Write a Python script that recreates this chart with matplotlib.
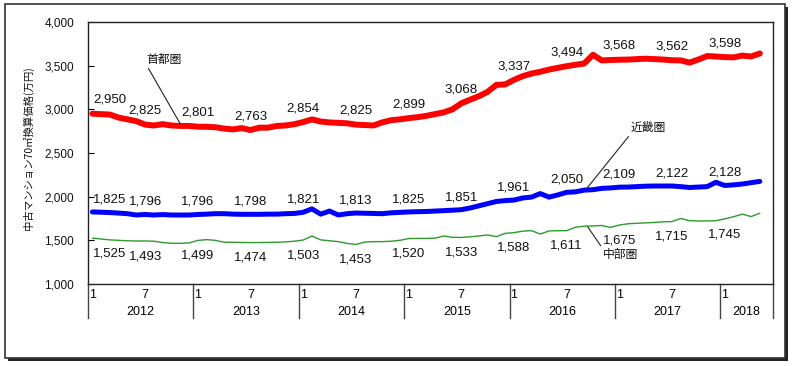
import numpy as np
import matplotlib
matplotlib.use('Agg')
import matplotlib.pyplot as plt
from matplotlib.patches import Rectangle
from matplotlib.lines import Line2D
from matplotlib.transforms import blended_transform_factory

plt.rcParams['font.family'] = ['Liberation Sans', 'Noto Sans CJK JP']

# monthly values, Jan 2012 .. May 2018
years = ['2012', '2013', '2014', '2015', '2016', '2017', '2018']
n_months = 78  # category slots through Jun 2018

shutoken = [2950, 2945, 2940, 2905, 2885, 2865, 2825, 2815, 2830, 2815, 2810, 2810,
            2801, 2800, 2795, 2780, 2770, 2785, 2763, 2790, 2790, 2810, 2815, 2830,
            2854, 2885, 2860, 2850, 2845, 2840, 2825, 2820, 2815, 2850, 2875, 2885,
            2899, 2910, 2925, 2945, 2965, 3000, 3068, 3110, 3150, 3200, 3280, 3285,
            3337, 3380, 3410, 3430, 3455, 3475, 3494, 3510, 3525, 3625, 3560, 3565,
            3568, 3570, 3575, 3580, 3575, 3570, 3562, 3560, 3535, 3570, 3610, 3605,
            3598, 3595, 3615, 3605, 3640]

kinki = [1825, 1822, 1818, 1812, 1805, 1790, 1796, 1790, 1795, 1790, 1790, 1790,
         1796, 1800, 1805, 1805, 1800, 1798, 1798, 1798, 1800, 1800, 1805, 1808,
         1821, 1860, 1800, 1835, 1790, 1805, 1813, 1810, 1808, 1805, 1815, 1820,
         1825, 1828, 1830, 1835, 1840, 1845, 1851, 1870, 1895, 1920, 1945, 1955,
         1961, 1985, 1995, 2035, 1995, 2020, 2050, 2055, 2075, 2080, 2095, 2100,
         2109, 2110, 2115, 2120, 2122, 2122, 2122, 2115, 2105, 2110, 2115, 2165,
         2128, 2135, 2145, 2160, 2175]

chubu = [1525, 1515, 1505, 1500, 1495, 1492, 1493, 1490, 1475, 1466, 1466, 1470,
         1499, 1508, 1500, 1478, 1478, 1476, 1474, 1475, 1476, 1478, 1482, 1490,
         1503, 1550, 1505, 1495, 1485, 1465, 1453, 1480, 1485, 1485, 1490, 1500,
         1520, 1522, 1522, 1525, 1550, 1535, 1533, 1540, 1550, 1562, 1542, 1580,
         1588, 1605, 1611, 1572, 1608, 1610, 1611, 1650, 1662, 1665, 1670, 1648,
         1675, 1690, 1695, 1700, 1705, 1712, 1715, 1750, 1725, 1722, 1722, 1725,
         1745, 1770, 1800, 1772, 1810]

series = [('首都圏', shutoken, '#ff0000', 4.3),
          ('近畿圏', kinki, '#0000ff', 3.6),
          ('中部圏', chubu, '#2e9a2e', 1.0)]

fig = plt.figure(figsize=(7.94, 3.66), dpi=100)

# outer frame with shadow (pixel coords)
W, H = 794, 366
fig.patches.append(Rectangle((8 / W, 1 - 361 / H), 780 / W, 354 / H, transform=fig.transFigure,
                             facecolor='#222222', edgecolor='none', zorder=0))
fig.patches.append(Rectangle((5 / W, 1 - 358 / H), 780 / W, 354 / H, transform=fig.transFigure,
                             facecolor='white', edgecolor='#333333', lw=1.2, zorder=1))

ax = fig.add_axes([88 / W, 1 - 284 / H, 685 / W, 262 / H])
ax.set_zorder(2)
ax.patch.set_alpha(0)

x = np.arange(len(shutoken)) + 0.5
for name, vals, col, lw in series:
    ax.plot(x, vals, color=col, lw=lw, solid_joinstyle='round', solid_capstyle='round')

ax.set_xlim(0, n_months)
ax.set_ylim(1000, 4000)
ax.set_yticks(np.arange(1000, 4001, 500))
ax.set_yticklabels([f'{v:,}' for v in range(1000, 4001, 500)], fontsize=8.5, color='#111111')
ax.tick_params(axis='y', direction='in', length=4, width=0.8, pad=10)
ax.set_xticks([])
for s in ax.spines.values():
    s.set_linewidth(1.0)
    s.set_color('#222222')

# data labels every 6 months
label_idx = list(range(0, len(shutoken), 6))
for name, vals, col, lw in series:
    dy = {'首都圏': 10, '近畿圏': 9, '中部圏': -11}[name]
    for k in label_idx:
        ha = 'left' if k == 0 else 'center'
        ax.annotate(f'{vals[k]:,}', (x[k] + (0.1 if k == 0 else 0), vals[k]),
                    xytext=(0, dy), textcoords='offset points',
                    ha=ha, va='center', fontsize=9.5, color='#111111')

# series names with leader lines
ax.annotate('首都圏', xy=(10.5, 2835), xytext=(6.7, 3500), fontsize=8.5,
            ha='left', va='bottom', color='#111111',
            arrowprops=dict(arrowstyle='-', color='#222222', lw=0.8,
                            shrinkA=0, shrinkB=0, relpos=(0, 0)))
ax.annotate('近畿圏', xy=(56.8, 2095), xytext=(61.8, 2720), fontsize=8.5,
            ha='left', va='bottom', color='#111111',
            arrowprops=dict(arrowstyle='-', color='#222222', lw=0.8,
                            shrinkA=0, shrinkB=0, relpos=(0, 0)))
ax.annotate('中部圏', xy=(56.9, 1655), xytext=(58.6, 1405), fontsize=8.5,
            ha='left', va='top', color='#111111',
            arrowprops=dict(arrowstyle='-', color='#222222', lw=0.8,
                            shrinkA=0, shrinkB=0, relpos=(0, 1)))

# category axis: months and years
trans = blended_transform_factory(ax.transData, ax.transAxes)
for j, yr in enumerate(years):
    start = j * 12
    ax.text(start + 0.5, -0.042, '1', transform=trans, ha='center', va='center', fontsize=9)
    if start + 6 < n_months and j < len(years) - 1:
        ax.text(start + 6.5, -0.042, '7', transform=trans, ha='center', va='center', fontsize=9)
    end = min(start + 12, n_months)
    ax.text((start + end) / 2, -0.107, yr, transform=trans, ha='center', va='center', fontsize=9)
for b in list(range(0, n_months, 12)) + [n_months]:
    ax.add_line(Line2D([b, b], [0, -0.13], transform=trans, color='#444444', lw=1.0, clip_on=False))

fig.text(28 / W, 1 - 148 / H, '中古マンション70㎡換算価格(万円)', rotation=90,
         ha='center', va='center', fontsize=7.5, color='#111111',
         family=['Noto Sans CJK JP', 'DejaVu Sans'])

fig.savefig('out.png', dpi=100)
